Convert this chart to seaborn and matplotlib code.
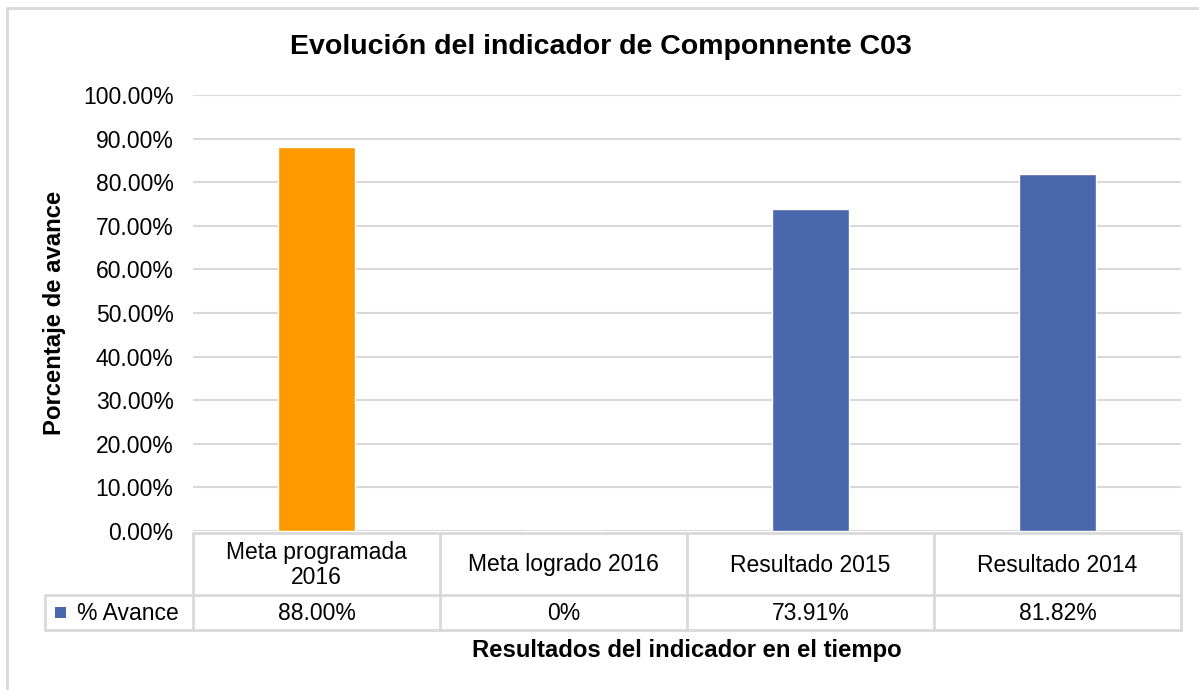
import pandas as pd
import matplotlib
matplotlib.use("Agg")
import matplotlib.pyplot as plt
from matplotlib.patches import Rectangle
from matplotlib.lines import Line2D
import seaborn as sns

# data
categorias = ["Meta programada\n2016", "Meta logrado 2016", "Resultado 2015", "Resultado 2014"]
avance = [0.88, 0.0, 0.7391, 0.8182]
etiquetas = ["88.00%", "0%", "73.91%", "81.82%"]
colores = ["#ff9900", "#4a66ad", "#4a66ad", "#4a66ad"]

df = pd.DataFrame({"Categoria": categorias, "Avance": avance})

sns.set_theme(style="white")
plt.rcParams["font.family"] = ["Liberation Sans", "DejaVu Sans"]

W, H = 1199, 690
fig = plt.figure(figsize=(W / 100, H / 100), dpi=100)

def fx(px):
    return px / W

def fy(py):
    return 1 - py / H

# plot area
left, right, top, bottom = 193, 1181, 95, 531
ax = fig.add_axes([fx(left), fy(bottom), fx(right - left), fy(top) - fy(bottom)])
sns.barplot(data=df, x="Categoria", y="Avance", hue="Categoria", palette=colores,
            legend=False, width=0.31, ax=ax, saturation=1)
ax.set_ylim(0, 1.0)
ax.set_xlim(-0.5, 3.5)
ax.set_yticks([i / 10 for i in range(11)])
ax.set_yticklabels([f"{i * 10:.2f}%" for i in range(11)], fontsize=16.5, color="#000000")
ax.tick_params(axis="y", length=0, pad=14)
ax.set_xticks([])
ax.set_xlabel("")
ax.set_ylabel("")
ax.grid(axis="y", color="#d9d9d9", linewidth=1.5)
ax.set_axisbelow(True)
for s in ax.spines.values():
    s.set_visible(False)

# outer chart border (right and bottom edges fall outside the image)
fig.add_artist(Rectangle((fx(7), fy(720)), fx(1250), fy(8) - fy(720), transform=fig.transFigure,
                         fill=False, edgecolor="#d9d9d9", linewidth=2))

# data table under the axis
lc = "#d9d9d9"
cols = [193, 440, 687, 934, 1181]
t_top, t_mid, t_bot = 533, 595, 630
hdr_left = 45

def hline(x0, x1, y):
    fig.add_artist(Line2D([fx(x0), fx(x1)], [fy(y), fy(y)], color=lc, linewidth=2))

def vline(x, y0, y1):
    fig.add_artist(Line2D([fx(x), fx(x)], [fy(y0), fy(y1)], color=lc, linewidth=2))

hline(cols[0], cols[-1], t_top)
hline(hdr_left, cols[-1], t_mid)
hline(hdr_left, cols[-1], t_bot)
vline(hdr_left, t_mid, t_bot)
for c in cols:
    vline(c, t_top, t_bot)

for i, cat in enumerate(categorias):
    cx = (cols[i] + cols[i + 1]) / 2
    fig.text(fx(cx), fy((t_top + t_mid) / 2 + 1), cat, ha="center", va="center",
             fontsize=16.5, color="#000000", linespacing=1.15)
    fig.text(fx(cx), fy((t_mid + t_bot) / 2 + 1), etiquetas[i], ha="center", va="center",
             fontsize=16.5, color="#000000")

# legend key in the table
fig.add_artist(Rectangle((fx(55), fy(618)), fx(11), fy(607) - fy(618), transform=fig.transFigure,
                         facecolor="#4a66ad", edgecolor="none"))
fig.text(fx(77), fy((t_mid + t_bot) / 2 + 1), "% Avance", ha="left", va="center",
         fontsize=16.5, color="#000000")

# titles
fig.text(fx(601), fy(47), "Evolución del indicador de Componnente C03", ha="center", va="center",
         fontsize=20.5, fontweight="bold", color="#000000")
fig.text(fx(687), fy(650), "Resultados del indicador en el tiempo", ha="center", va="center",
         fontsize=17.2, fontweight="bold", color="#000000")
fig.text(fx(55), fy(313), "Porcentaje de avance", ha="center", va="center", rotation=90,
         fontsize=17.2, fontweight="bold", color="#000000")

fig.savefig("out.png", dpi=100, facecolor="white")
